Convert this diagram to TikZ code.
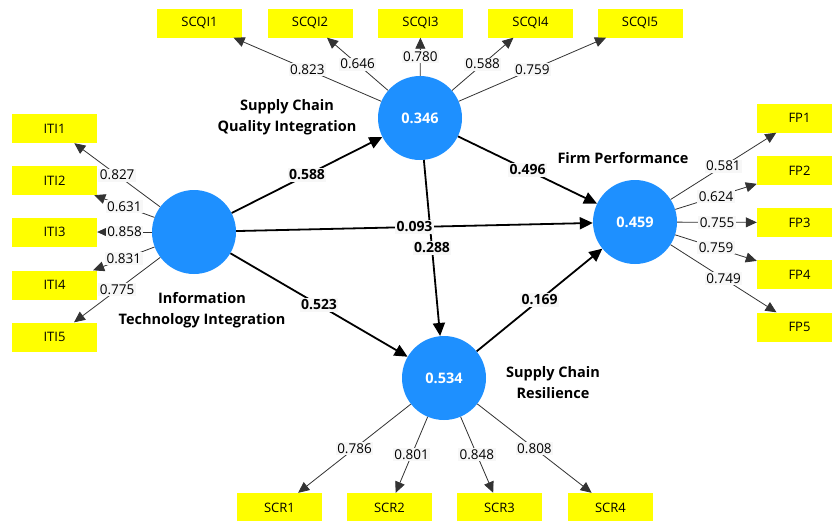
\documentclass[tikz,border=0pt]{standalone}
\usepackage{fontspec}
\setmainfont{Open Sans}
\usetikzlibrary{arrows.meta,positioning}
\definecolor{latent}{RGB}{30,144,255}
\definecolor{indyellow}{RGB}{255,255,0}
\tikzset{
  lv/.style={circle, fill=latent, minimum size=84pt, inner sep=0pt, text=white,
    font=\fontsize{14.5}{17}\selectfont\bfseries},
  ind/.style={fill=indyellow, minimum width=85pt, minimum height=29pt, inner sep=0pt,
    font=\fontsize{13}{15}\selectfont},
  load/.style={draw=black!80, line width=0.8pt, -{Triangle[length=11pt,width=10pt]}},
  struct/.style={draw=black, line width=1.8pt, -{Triangle[length=13pt,width=12pt]}},
  lw/.style={midway, fill=black!3, inner sep=1.5pt, font=\fontsize{13.5}{15}\selectfont},
  cw/.style={midway, fill=black!3, inner sep=1.5pt, font=\fontsize{14}{16}\selectfont\bfseries},
  lvname/.style={align=center, font=\fontsize{14.5}{21}\selectfont\bfseries}
}

\begin{document}
\begin{tikzpicture}[x=1pt,y=-1pt]
  \path[use as bounding box, clip] (0,0) rectangle (832,520);
  \fill[white] (0,0) rectangle (832,520);
  \node[lv] (iti) at (194,232) {};
  \node[lv] (scqi) at (420,118) {0.346};
  \node[lv] (fp) at (635,222) {0.459};
  \node[lv] (scr) at (444,378) {0.534};
  \node[lvname] (itiname) at (202,310) {Information\\Technology Integration};
  \node[lvname] (scqiname) at (287,117) {Supply Chain\\Quality Integration};
  \node[lvname] (fpname) at (623,158) {Firm Performance};
  \node[lvname] (scrname) at (553,383) {Supply Chain\\Resilience};
  \foreach \i/\y/\l in {1/128.5/0.827, 2/180.5/0.631, 3/232/0.858, 4/285/0.831, 5/337/0.775} {
    \node[ind] (iti\i) at (54.5,\y) {ITI\i};
    \draw[load] (iti) -- node[lw] {\l} (iti\i);
  }
  \foreach \i/\x/\l in {1/199.5/0.823, 2/310/0.646, 3/420.5/0.780, 4/530.5/0.588, 5/640/0.759} {
    \node[ind] (scqi\i) at (\x,23) {SCQI\i};
    \draw[load] (scqi) -- node[lw] {\l} (scqi\i);
  }
  \foreach \i/\y/\l in {1/118/0.581, 2/170.5/0.624, 3/222.5/0.755, 4/274.5/0.759, 5/327/0.749} {
    \node[ind] (fp\i) at (799.5,\y) {FP\i};
    \draw[load] (fp) -- node[lw] {\l} (fp\i);
  }
  \foreach \i/\x/\l in {1/279.5/0.786, 2/389.5/0.801, 3/499.5/0.848, 4/610.5/0.808} {
    \node[ind] (scr\i) at (\x,507.5) {SCR\i};
    \draw[load] (scr) -- node[lw] {\l} (scr\i);
  }
  \draw[struct] (iti) -- node[cw] {0.588} (scqi);
  \draw[struct] (scqi) -- node[cw] {0.288} (scr);
  \draw[struct] (iti) -- node[cw] {0.093} (fp);
  \draw[struct] (scqi) -- node[cw] {0.496} (fp);
  \draw[struct] (iti) -- node[cw] {0.523} (scr);
  \draw[struct] (scr) -- node[cw] {0.169} (fp);
\end{tikzpicture}
\end{document}
